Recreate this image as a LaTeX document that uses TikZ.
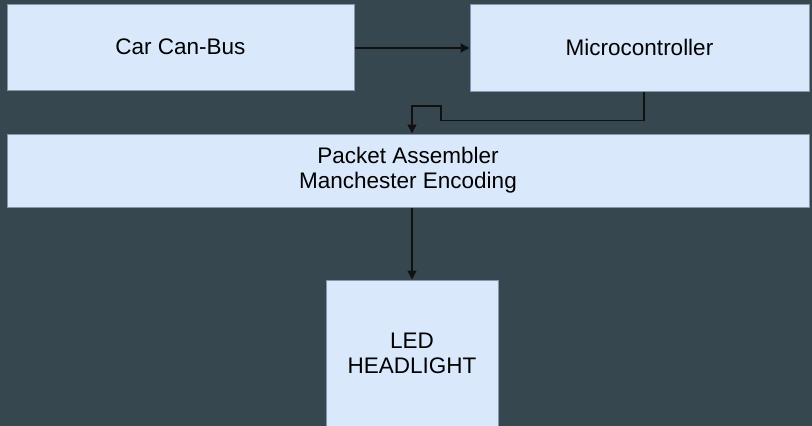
\documentclass[tikz,border=0pt]{standalone}
\usepackage{fontspec}
\setmainfont{Liberation Sans}
\usepackage{xcolor}
\usetikzlibrary{arrows.meta, calc, positioning}
\definecolor{bgslate}{HTML}{37474F}
\definecolor{boxfill}{HTML}{DAE8FC}
\definecolor{boxline}{HTML}{8596AD}
\definecolor{wire}{HTML}{111111}
\tikzset{
  block/.style={draw=boxline, line width=1pt, fill=boxfill, inner sep=0pt,
    align=center, font=\fontsize{22.5}{25}\selectfont, text=black},
  link/.style={draw=wire, line width=1.4pt, -{Triangle[length=9pt, width=9pt]}},
}

\begin{document}
\begin{tikzpicture}[x=1pt, y=-1pt]
    % background
    \fill[bgslate] (0,0) rectangle (812,426);
    \useasboundingbox (0,0) rectangle (812,426);

    \node[block, minimum width=347pt, minimum height=86pt] (canbus) at (180.5,47) {Car Can-Bus};
    \node[block, minimum width=339pt, minimum height=87pt] (mcu) at (639.5,47.5) {Microcontroller};
    \node[block, minimum width=802pt, minimum height=73pt] (packet) at (408,170.5) {Packet Assembler\\Manchester Encoding};
    \node[block, minimum width=172pt, minimum height=146pt] (led) at (412,353) {LED\\HEADLIGHT};

    \draw[link] (canbus.east |- 0,48) -- (mcu.west |- 0,48);
    \draw[link] ([xshift=4.5pt]mcu.south) -- ++(0,29) -| (441,106) -| (packet.north -| led.north);
    \draw[link] (packet.south -| led.north) -- (led.north);
\end{tikzpicture}
\end{document}
